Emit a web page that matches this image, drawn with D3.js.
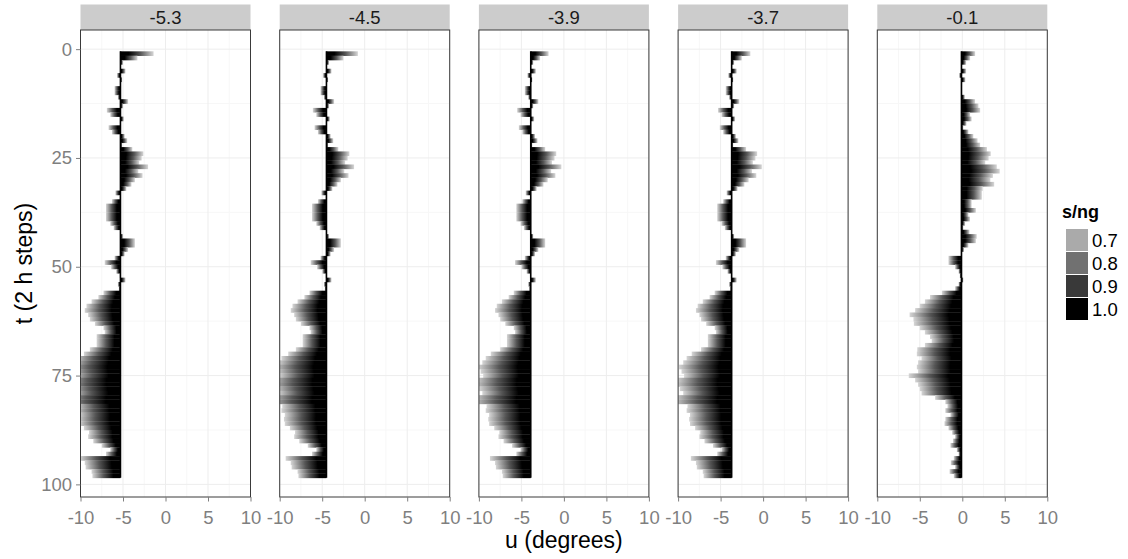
<!DOCTYPE html>
<html><head><meta charset="utf-8">
<script src="https://cdn.jsdelivr.net/npm/d3@7"></script>
<style>body{margin:0;background:#fff} svg{display:block;font-family:"Liberation Sans",Arial,sans-serif}</style>
</head><body><svg id="chart" width="1128" height="559"></svg>
<script>
const facetLabels = ["-5.3","-4.5","-3.9","-3.7","-0.1"];
const baselines = [-5.3,-4.5,-3.9,-3.7,-0.1];
const tSteps = d3.range(1, 99);
const u_m53 = [-1.4,-3.3,-5.0,-5.3,-4.7,-5.7,-5.1,-5.3,-6.0,-6.0,-5.6,-4.4,-5.0,-6.9,-6.5,-4.9,-5.3,-6.7,-6.3,-4.8,-4.5,-5.1,-3.9,-2.6,-2.8,-3.1,-2.05,-3.2,-2.7,-3.6,-4.0,-4.6,-5.9,-5.4,-6.3,-7.0,-7.0,-7.0,-7.0,-6.5,-6.1,-5.3,-5.0,-3.6,-3.6,-4.4,-4.8,-6.0,-7.15,-6.4,-5.8,-5.4,-4.7,-5.6,-5.5,-7.3,-7.9,-8.7,-9.3,-9.5,-9.1,-8.9,-8.3,-7.3,-7.15,-8.1,-8.1,-8.1,-8.9,-9.6,-10.6,-11.0,-11.5,-11.2,-10.9,-11.8,-12.0,-11.4,-11.0,-12.0,-12.2,-10.5,-10.6,-10.2,-10.3,-10.2,-9.6,-9.0,-9.1,-8.5,-7.5,-6.5,-7.0,-10.1,-9.5,-9.4,-8.7,-8.6];
const u_m45 = [-0.8,-2.5,-4.2,-4.5,-3.9,-4.9,-4.3,-4.5,-5.2,-5.2,-4.8,-3.6,-4.2,-6.1,-5.7,-4.1,-4.5,-5.9,-5.5,-4.0,-3.7,-4.3,-3.1,-1.8,-2.0,-2.3,-1.25,-2.4,-1.9,-2.8,-3.2,-3.8,-5.1,-4.6,-5.5,-6.2,-6.2,-6.2,-6.2,-5.7,-5.3,-4.5,-4.2,-2.8,-2.8,-3.6,-4.0,-5.2,-6.35,-5.6,-5.0,-4.6,-3.9,-4.8,-4.7,-6.5,-7.1,-7.9,-8.5,-8.7,-8.3,-8.1,-7.5,-6.5,-6.35,-7.3,-7.3,-7.3,-8.1,-9.0,-9.8,-10.2,-10.7,-10.4,-10.1,-11.0,-11.2,-10.6,-10.2,-11.2,-11.4,-9.7,-9.8,-9.4,-9.5,-9.4,-8.8,-8.2,-8.3,-7.7,-6.7,-5.7,-6.2,-9.3,-8.7,-8.6,-7.9,-7.8];
const u_m39 = [-1.8,-2.8,-3.6,-3.9,-3.3,-4.3,-3.7,-3.9,-4.6,-4.6,-4.2,-3.0,-3.6,-5.5,-5.1,-3.5,-3.9,-5.3,-4.9,-3.4,-3.1,-3.7,-2.2,-0.9,-1.1,-1.4,-0.3,-1.5,-1.0,-1.9,-2.4,-3.2,-4.5,-4.0,-4.9,-5.6,-5.6,-5.6,-5.6,-5.1,-4.7,-3.9,-3.6,-2.2,-2.2,-3.0,-3.4,-4.6,-5.75,-5.0,-4.4,-4.0,-3.3,-4.2,-4.1,-5.9,-6.5,-7.3,-7.9,-8.1,-7.7,-7.5,-6.9,-5.9,-5.75,-6.7,-6.7,-6.7,-7.5,-8.6,-9.2,-9.6,-10.1,-9.8,-9.5,-10.4,-10.6,-10.0,-9.6,-10.6,-10.8,-9.1,-9.2,-8.8,-8.9,-8.8,-8.2,-7.6,-7.7,-7.1,-6.1,-5.1,-5.6,-8.7,-8.1,-8.0,-7.3,-7.2];
const u_m37 = [-1.5,-2.5,-3.4,-3.7,-3.1,-4.1,-3.5,-3.7,-4.4,-4.4,-4.0,-2.8,-3.4,-5.3,-4.9,-3.3,-3.7,-5.1,-4.7,-3.2,-2.9,-3.5,-2.0,-0.7,-0.9,-1.2,-0.15,-1.3,-0.8,-1.7,-2.2,-3.0,-4.3,-3.8,-4.7,-5.4,-5.4,-5.4,-5.4,-4.9,-4.5,-3.7,-3.4,-2.0,-2.0,-2.8,-3.2,-4.4,-5.55,-4.8,-4.2,-3.8,-3.1,-4.0,-3.9,-5.7,-6.3,-7.1,-7.7,-7.9,-7.5,-7.3,-6.7,-5.7,-5.55,-6.5,-6.5,-6.5,-7.3,-8.4,-9.0,-9.4,-9.9,-9.6,-9.3,-10.2,-10.4,-9.8,-9.4,-10.4,-10.6,-8.9,-9.0,-8.6,-8.7,-8.6,-8.0,-7.4,-7.5,-6.9,-5.9,-4.9,-5.4,-8.5,-7.9,-7.8,-7.1,-7.0];
const u_m01 = [1.51,0.92,0.45,-0.1,0.45,-0.37,0.37,-0.1,-0.1,-0.1,0.3,1.5,1.9,2.1,0.92,1.1,0.5,0.14,0.73,1.3,1.8,2.1,2.9,3.35,3.1,2.7,4.06,4.4,3.6,3.3,3.75,2.4,2.3,2.3,1.1,1.1,1.6,0.73,0.9,0.33,0.14,0.84,1.7,1.6,0.73,0.2,-0.1,-1.63,-1.63,-0.85,-0.45,-0.3,0.14,-0.45,-0.85,-2.4,-3.8,-4.4,-5.0,-5.55,-6.2,-5.75,-5.7,-5.0,-4.4,-3.8,-3.6,-4.4,-5.3,-5.35,-4.8,-5.2,-5.35,-5.2,-6.3,-5.55,-5.2,-5.0,-4.8,-3.2,-2.0,-1.75,-2.0,-1.4,-2.0,-2.1,-1.63,-1.2,-0.85,-1.1,-1.4,-0.65,-0.45,-1.0,-1.35,-0.85,-1.5,-1.0];
const seriesU = [u_m53, u_m45, u_m39, u_m37, u_m01];
const xTicks = [-10, -5, 0, 5, 10];
const xMinor = [-7.5, -2.5, 2.5, 7.5];
const yTicks = [0, 25, 50, 75, 100];
const yMinor = [12.5, 37.5, 62.5, 87.5];
const legendLevels = [0.7, 0.8, 0.9, 1.0];
const legendLabels = ["0.7", "0.8", "0.9", "1.0"];

const svg = d3.select("#chart");
const panelW = 170, panelStep = 199.2, panelX0 = 80.5;
const panelTop = 30, panelBottom = 497;
const y = d3.scaleLinear().domain([-4.4, 102.9]).range([panelTop, panelBottom]);
const shade = d3.scaleLinear().domain([0.7, 1.0]).range(["#aaaaaa", "#000000"]);

const defs = svg.append("defs");
function grad(id, x1, x2) {
  const g = defs.append("linearGradient").attr("id", id)
    .attr("x1", x1).attr("x2", x2).attr("y1", 0).attr("y2", 0);
  g.append("stop").attr("offset", 0).attr("stop-color", shade(1.0));
  g.append("stop").attr("offset", 0.25).attr("stop-color", shade(1.0));
  g.append("stop").attr("offset", 0.6).attr("stop-color", shade(0.85));
  g.append("stop").attr("offset", 1).attr("stop-color", "#d6d6d6");
}
grad("gR", 0, 1);
grad("gL", 1, 0);

facetLabels.forEach((lab, i) => {
  const left = panelX0 + i * panelStep;
  const x = d3.scaleLinear().domain([-10, 10]).range([left, left + panelW]);
  const g = svg.append("g");
  defs.append("clipPath").attr("id", "clip" + i).append("rect")
    .attr("x", left).attr("y", panelTop).attr("width", panelW).attr("height", panelBottom - panelTop);
  g.append("rect").attr("x", left).attr("y", 4.5).attr("width", panelW).attr("height", 25.5).attr("fill", "#cccccc");
  g.append("text").attr("x", left + panelW / 2).attr("y", 24).attr("text-anchor", "middle")
    .attr("font-size", "18.5px").attr("fill", "#1a1a1a").text(lab);
  g.selectAll(".vmin").data(xMinor).join("line").attr("x1", d => x(d)).attr("x2", d => x(d))
    .attr("y1", panelTop).attr("y2", panelBottom).attr("stroke", "#f7f7f7").attr("stroke-width", 1);
  g.selectAll(".hmin").data(yMinor).join("line").attr("y1", d => y(d)).attr("y2", d => y(d))
    .attr("x1", left).attr("x2", left + panelW).attr("stroke", "#f7f7f7").attr("stroke-width", 1);
  g.selectAll(".vmaj").data(xTicks).join("line").attr("x1", d => x(d)).attr("x2", d => x(d))
    .attr("y1", panelTop).attr("y2", panelBottom).attr("stroke", "#ededed").attr("stroke-width", 1);
  g.selectAll(".hmaj").data(yTicks).join("line").attr("y1", d => y(d)).attr("y2", d => y(d))
    .attr("x1", left).attr("x2", left + panelW).attr("stroke", "#ededed").attr("stroke-width", 1);
  const base = baselines[i];
  const vals = seriesU[i];
  const bars = g.append("g").attr("clip-path", `url(#clip${i})`);
  bars.selectAll("rect").data(tSteps.map((t, k) => ({ t, u: vals[k] })).filter(d => d.u !== undefined && Math.abs(d.u - base) > 0.01))
    .join("rect")
    .attr("x", d => x(Math.min(d.u, base)))
    .attr("width", d => Math.abs(x(d.u) - x(base)))
    .attr("y", d => y(d.t - 0.5))
    .attr("height", d => y(d.t + 0.5) - y(d.t - 0.5) + 0.3)
    .attr("fill", d => d.u > base ? "url(#gR)" : "url(#gL)");
  bars.append("line").attr("x1", x(base)).attr("x2", x(base))
    .attr("y1", y(0.5)).attr("y2", y(98.5)).attr("stroke", "#000").attr("stroke-width", 1.6);
  g.append("rect").attr("x", left).attr("y", panelTop).attr("width", panelW).attr("height", panelBottom - panelTop)
    .attr("fill", "none").attr("stroke", "#3a3a3a").attr("stroke-width", 1);
  const ax = svg.append("g").attr("transform", `translate(0,${panelBottom})`)
    .call(d3.axisBottom(x).tickValues(xTicks).tickFormat(d3.format("d")).tickSize(4.5).tickPadding(9));
  ax.select(".domain").remove();
  ax.selectAll("line").attr("stroke", "#7f7f7f");
  ax.selectAll("text").attr("fill", "#7f7f7f").attr("font-size", "18.5px").attr("font-family", "Liberation Sans, Arial, sans-serif")
    .text(d => d < 0 ? "-" + Math.abs(d) : d);
});

const ay = svg.append("g").attr("transform", `translate(${panelX0},0)`)
  .call(d3.axisLeft(y).tickValues(yTicks).tickSize(4.5).tickPadding(4));
ay.select(".domain").remove();
ay.selectAll("line").attr("stroke", "#7f7f7f");
ay.selectAll("text").attr("fill", "#7f7f7f").attr("font-size", "18.5px").attr("font-family", "Liberation Sans, Arial, sans-serif");

svg.append("text").attr("x", panelX0 + (4 * panelStep + panelW) / 2).attr("y", 548).attr("text-anchor", "middle")
  .attr("font-size", "23px").attr("fill", "#000").text("u (degrees)");
svg.append("text").attr("transform", `translate(32,${(panelTop + panelBottom) / 2}) rotate(-90)`).attr("text-anchor", "middle")
  .attr("font-size", "23px").attr("fill", "#000").text("t (2 h steps)");

const lg = svg.append("g").attr("transform", "translate(1062,0)");
lg.append("text").attr("x", 0).attr("y", 218).attr("font-size", "18px").attr("font-weight", "bold").text("s/ng");
lg.selectAll("rect").data(legendLevels).join("rect")
  .attr("x", 4).attr("y", (d, k) => 229 + k * 23).attr("width", 22).attr("height", 22)
  .attr("fill", d => shade(d));
lg.selectAll(".lab").data(legendLabels).join("text")
  .attr("x", 30).attr("y", (d, k) => 247 + k * 23).attr("font-size", "18.5px").text(d => d);
</script></body></html>
